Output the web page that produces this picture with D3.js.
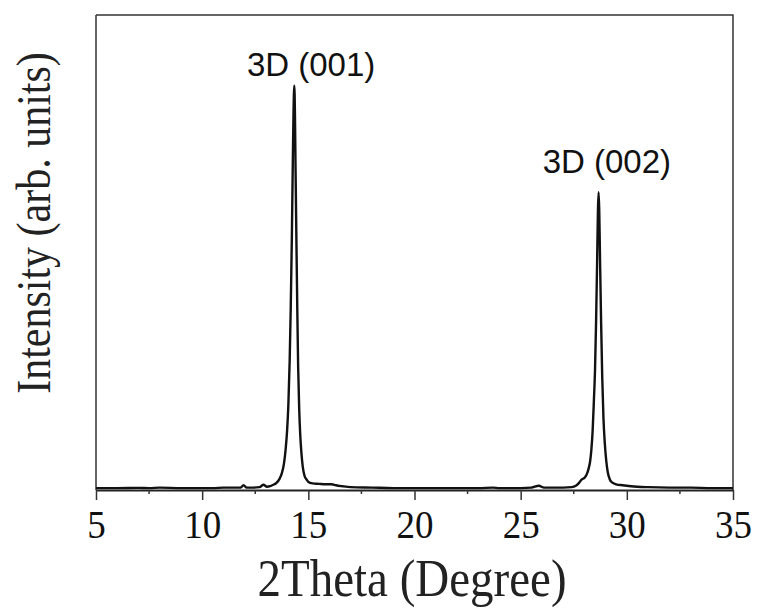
<!DOCTYPE html>
<html>
<head>
<meta charset="utf-8">
<script src="https://cdn.jsdelivr.net/npm/d3@7"></script>
<style>
  html, body { margin: 0; padding: 0; background: #fff; }
  svg { display: block; }
</style>
</head>
<body>
<svg id="chart" width="758" height="614"></svg>
<script>
// ---- data ----
const twoTheta = [
  5.0, 6.0, 7.0, 7.5, 8.0, 9.0, 10.0, 10.5, 11.0, 11.5, 11.8, 11.95, 12.1, 12.4, 12.7, 12.89, 13.05, 13.2,
  13.30, 13.50, 13.65, 13.75, 13.85, 13.93, 14.00, 14.06, 14.12, 14.17, 14.22, 14.26, 14.30, 14.34,
  14.37, 14.40, 14.44, 14.48, 14.52, 14.57, 14.62, 14.68, 14.74, 14.82, 14.92, 15.0, 15.2, 15.5, 15.8, 16.1, 16.3, 16.6,
  17.0, 18.0, 19.0, 20.0, 21.0, 22.0, 23.0, 23.7, 24.0, 25.0, 25.5, 25.86, 26.1, 26.5,
  27.0, 27.4, 27.6, 27.75, 27.87, 27.95, 28.03, 28.12, 28.20, 28.27, 28.33, 28.39, 28.45, 28.50, 28.55, 28.60, 28.64, 28.67,
  28.70, 28.74, 28.79, 28.84, 28.90, 28.96, 29.03, 29.10, 29.20, 29.30, 29.50, 29.80, 30.2, 31.0, 32.0, 33.0, 34.0, 35.0
];
const intensity = [
  4, 4, 4.5, 4, 5, 4, 4, 4, 5, 5, 5, 10, 5, 5, 6, 11, 7, 8,
  10, 15, 24, 35, 55, 85, 125, 180, 270, 380, 520, 660, 790, 851,
  790, 670, 520, 380, 260, 170, 115, 75, 48, 30, 22, 17, 14, 13, 12, 12, 10, 8,
  6, 5, 4, 4, 4, 4, 4, 5, 4, 4, 5, 9, 5, 5,
  5, 6, 9, 15, 22, 24, 27, 34, 45, 60, 85, 125, 190, 250, 350, 480, 590, 627,
  590, 480, 350, 240, 150, 100, 62, 38, 22, 16, 12, 10, 8, 6, 5, 5, 4, 4
];
const xTicks = [5, 10, 15, 20, 25, 30, 35];
const xMinorTicks = [7.5, 12.5, 17.5, 22.5, 27.5, 32.5];
const peakLabels = ["3D (001)", "3D (002)"];
const peakLabelX = [15.13, 29.06];
const peakLabelY = [872, 667];
const xTitle = "2Theta (Degree)";
const yTitle = "Intensity (arb. units)";

// ---- layout ----
const margin = { left: 96, right: 25, top: 15, bottom: 124 };
const W = 758, H = 614;
const svg = d3.select("#chart");

const x = d3.scaleLinear().domain([5, 35]).range([margin.left, W - margin.right]);
const y = d3.scaleLinear().domain([0, 1000]).range([H - margin.bottom, margin.top]);

const serif = "'Liberation Serif', 'Times New Roman', serif";
const sans = "'Liberation Sans', Arial, sans-serif";

// frame (top and right)
svg.append("path")
  .attr("d", `M${x(5)},${y(1000)} H${x(35)} V${y(0)}`)
  .attr("fill", "none").attr("stroke", "#333").attr("stroke-width", 1.5);

// left axis line (no ticks)
svg.append("line")
  .attr("x1", x(5)).attr("x2", x(5)).attr("y1", y(1000)).attr("y2", y(0))
  .attr("stroke", "#333").attr("stroke-width", 1.5);

// bottom axis
const gx = svg.append("g").attr("transform", `translate(0,${y(0)})`);
gx.call(d3.axisBottom(x).tickValues(xTicks).tickSize(10).tickSizeOuter(0).tickFormat(d3.format("d")));
gx.select(".domain").attr("stroke", "#222").attr("stroke-width", 2);
gx.selectAll(".tick line").attr("stroke", "#333").attr("stroke-width", 1.5);
gx.selectAll(".tick text")
  .attr("y", 0).attr("dy", null)
  .attr("transform", "translate(0,48) scale(1,1.07)")
  .attr("font-family", serif).attr("font-size", 37).attr("fill", "#111");

// minor ticks
svg.append("g").selectAll("line").data(xMinorTicks).join("line")
  .attr("x1", d => x(d)).attr("x2", d => x(d))
  .attr("y1", y(0)).attr("y2", y(0) + 4)
  .attr("stroke", "#333").attr("stroke-width", 1.5);

// data line
const pts = twoTheta.map((t, i) => [t, intensity[i]]);
svg.append("path")
  .datum(pts)
  .attr("fill", "none")
  .attr("stroke", "#111")
  .attr("stroke-width", 2.4)
  .attr("stroke-linejoin", "round")
  .attr("d", d3.line().x(d => x(d[0])).y(d => y(d[1])).curve(d3.curveMonotoneX));

// peak labels
svg.append("g").selectAll("text").data(peakLabels).join("text")
  .attr("x", (d, i) => x(peakLabelX[i]))
  .attr("y", (d, i) => y(peakLabelY[i]))
  .attr("text-anchor", "middle")
  .attr("font-family", sans).attr("font-size", 33).attr("fill", "#111")
  .text(d => d);

// axis titles
svg.append("text")
  .attr("transform", "translate(412,596) scale(1,1.12)")
  .attr("text-anchor", "middle")
  .attr("font-family", serif).attr("font-size", 47).attr("fill", "#222")
  .text(xTitle);

svg.append("text")
  .attr("transform", "translate(50,223) rotate(-90) scale(1,1.18)")
  .attr("text-anchor", "middle")
  .attr("font-family", serif).attr("font-size", 42).attr("fill", "#222")
  .text(yTitle);
</script>
</body>
</html>
